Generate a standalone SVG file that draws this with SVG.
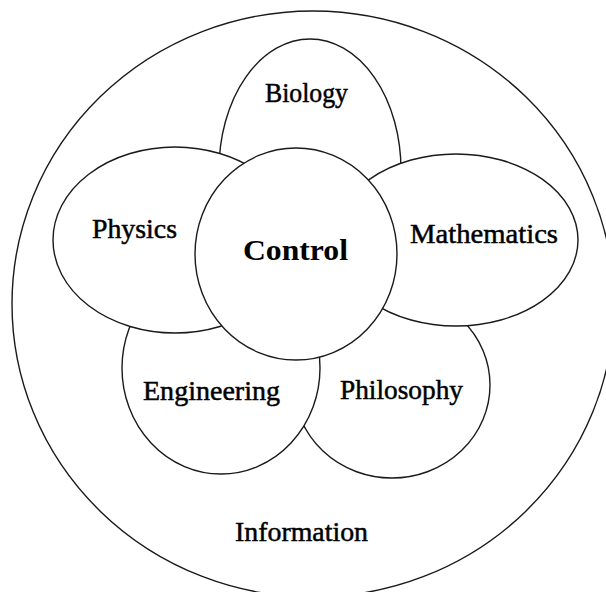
<svg xmlns="http://www.w3.org/2000/svg" width="606" height="592" viewBox="0 0 606 592">
<style>
.shape{fill:#fff;stroke:#1a1a1a;stroke-width:1.4}
.lbl{font-family:"Liberation Serif","Times New Roman",serif;font-size:28px;fill:#000;stroke:#000;stroke-width:0.5}
.ctl{font-family:"Liberation Serif","Times New Roman",serif;font-size:30px;font-weight:bold;fill:#000}
</style>
<rect width="606" height="592" fill="#fff"/>
<g id="information">
<ellipse class="shape" cx="313" cy="304" rx="301" ry="293"/>
<text class="lbl" x="235" y="541" textLength="133" lengthAdjust="spacingAndGlyphs">Information</text>
</g>
<g id="connectors"></g>
<g id="biology">
<ellipse class="shape" cx="310" cy="170" rx="91" ry="131"/>
<text class="lbl" x="265" y="102" textLength="83" lengthAdjust="spacingAndGlyphs">Biology</text>
</g>
<g id="philosophy">
<ellipse class="shape" cx="392" cy="385" rx="98" ry="93"/>
<text class="lbl" x="340" y="399" textLength="123" lengthAdjust="spacingAndGlyphs">Philosophy</text>
</g>
<g id="engineering">
<ellipse class="shape" cx="221" cy="368" rx="99" ry="106"/>
<text class="lbl" x="143" y="400" textLength="137" lengthAdjust="spacingAndGlyphs">Engineering</text>
</g>
<g id="physics">
<ellipse class="shape" cx="175" cy="240" rx="122" ry="93"/>
<text class="lbl" x="92" y="238" textLength="85" lengthAdjust="spacingAndGlyphs">Physics</text>
</g>
<g id="mathematics">
<ellipse class="shape" cx="456" cy="240" rx="122" ry="86"/>
<text class="lbl" x="410" y="243" textLength="148" lengthAdjust="spacingAndGlyphs">Mathematics</text>
</g>
<g id="control">
<ellipse class="shape" cx="296" cy="254" rx="101" ry="106"/>
<text class="ctl" x="243" y="260" textLength="105" lengthAdjust="spacingAndGlyphs">Control</text>
</g>
</svg>
